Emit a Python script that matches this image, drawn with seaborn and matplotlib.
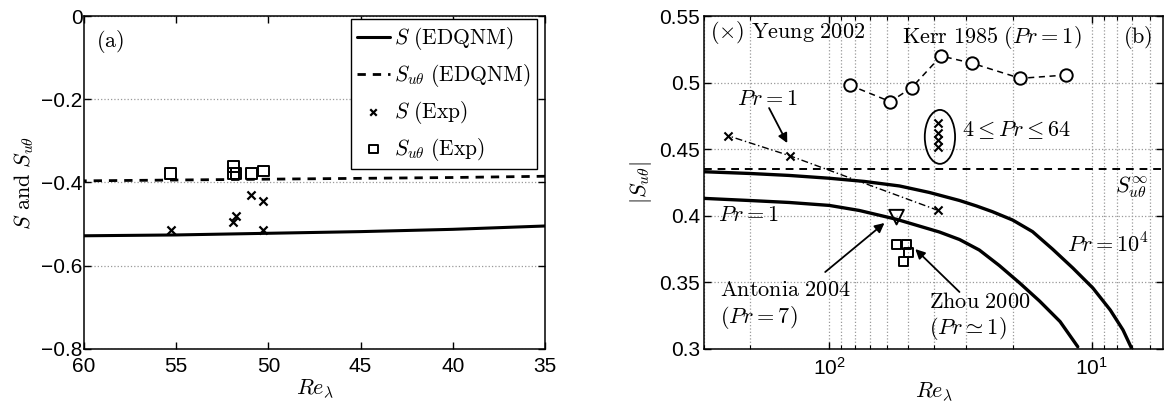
import matplotlib
matplotlib.use("Agg")
import matplotlib.pyplot as plt
import seaborn as sns
from matplotlib.patches import Ellipse
from matplotlib.ticker import FuncFormatter, NullFormatter, MultipleLocator, FixedLocator

# ---- panel (a): skewness vs Re_lambda ----
re_model_a = [60, 55, 50, 45, 40, 35]
s_model_a = [-0.528, -0.526, -0.522, -0.518, -0.5125, -0.5045]
sut_model_a = [-0.396, -0.394, -0.392, -0.390, -0.388, -0.385]

re_s_exp = [55.3, 51.94, 51.78, 50.94, 50.28, 50.28]
s_exp = [-0.513, -0.494, -0.480, -0.430, -0.444, -0.513]
re_sut_exp = [55.3, 51.90, 51.90, 51.76, 50.91, 50.28]
sut_exp = [-0.378, -0.362, -0.378, -0.378, -0.378, -0.372]

# ---- panel (b): |S_utheta| vs Re_lambda ----
re_pr1 = [302, 202, 142, 100, 76.8, 55.5, 38.0, 31.9, 26.8, 22.5, 18.8, 15.8, 13.2, 11.3]
s_pr1 = [0.4131, 0.4115, 0.4100, 0.4078, 0.4040, 0.3974, 0.3878, 0.3822, 0.3743, 0.3627,
         0.3495, 0.3360, 0.3206, 0.3017]
re_pr1e4 = [302, 202, 142, 100, 73.5, 54.0, 41.5, 31.9, 27.5, 23.9, 20.0, 16.8, 14.1, 11.8,
            9.9, 8.5, 7.6, 7.0]
s_pr1e4 = [0.4331, 0.4318, 0.4303, 0.4282, 0.4258, 0.4224, 0.4175, 0.4115, 0.4074, 0.4031,
           0.3968, 0.3881, 0.3750, 0.3608, 0.3458, 0.3293, 0.3143, 0.2993]
s_inf = 0.435

re_kerr = [83.4, 58.5, 48.5, 37.5, 28.5, 18.7, 12.5]
s_kerr = [0.498, 0.4857, 0.4962, 0.520, 0.5145, 0.5032, 0.5057]

re_yeung = [242, 141, 38.4]
s_yeung = [0.460, 0.445, 0.404]
re_yeung_pr = [38.4, 38.4, 38.4, 38.4]
s_yeung_pr = [0.470, 0.462, 0.457, 0.452]

re_antonia = [55.4]
s_antonia = [0.399]

re_zhou = [55.6, 50.9, 50.1, 52.0]
s_zhou = [0.3786, 0.3786, 0.3723, 0.3658]

sns.set_style("ticks", rc={
    "axes.edgecolor": "k", "xtick.color": "k", "ytick.color": "k",
    "text.color": "k", "axes.labelcolor": "k",
    "xtick.direction": "in", "ytick.direction": "in",
    "xtick.top": True, "ytick.right": True,
})
plt.rcParams["font.family"] = ["Liberation Sans", "DejaVu Sans"]
plt.rcParams["mathtext.fontset"] = "cm"
plt.rcParams["axes.linewidth"] = 1.1

FS = 15
TS = 16  # annotation text
fig = plt.figure(figsize=(11.64, 4.04), dpi=100)
ax1 = fig.add_axes([84 / 1164, 1 - 349 / 404, 461 / 1164, 333 / 404])
ax2 = fig.add_axes([704 / 1164, 1 - 349 / 404, 459 / 1164, 333 / 404])

# ---------- (a) ----------
sns.lineplot(x=re_model_a, y=s_model_a, ax=ax1, color="k", lw=2.2, estimator=None,
             label=r"$S\ \mathrm{(EDQNM)}$")
sns.lineplot(x=re_model_a, y=sut_model_a, ax=ax1, color="k", lw=2.0, linestyle=(0, (3, 2.5)),
             estimator=None, label=r"$S_{u\theta}\ \mathrm{(EDQNM)}$")
sns.scatterplot(x=re_s_exp, y=s_exp, ax=ax1, marker="x", color="k", s=34, linewidth=1.6,
                label=r"$S\ \mathrm{(Exp)}$", zorder=3)
sns.scatterplot(x=re_sut_exp, y=sut_exp, ax=ax1, marker="s", facecolor="none", edgecolor="k",
                s=58, linewidth=1.4, label=r"$S_{u\theta}\ \mathrm{(Exp)}$", zorder=3)

ax1.set_xlim(60, 35)
ax1.set_ylim(-0.8, 0)
ax1.xaxis.set_major_locator(MultipleLocator(5))
ax1.yaxis.set_major_locator(MultipleLocator(0.2))
ax1.yaxis.set_major_formatter(FuncFormatter(lambda v, _: f"{v:g}".replace("-", "\u2212")))
ax1.grid(axis="y", linestyle=":", color="#999999", lw=0.9)
ax1.tick_params(labelsize=FS, length=5, width=1.0)
ax1.tick_params(axis="x", pad=6)
ax1.tick_params(axis="y", pad=1)
ax1.set_xlabel(r"$Re_\lambda$", fontsize=FS + 1, labelpad=1)
ax1.set_ylabel(r"$S\ \mathrm{and}\ S_{u\theta}$", fontsize=FS + 1, labelpad=4)
ax1.text(0.026, 0.922, r"$\mathrm{(a)}$", transform=ax1.transAxes, fontsize=TS, va="center")
leg = ax1.legend(loc="upper right", bbox_to_anchor=(0.983, 0.991), borderaxespad=0,
                 fontsize=FS + 0.5, fancybox=False, framealpha=1, edgecolor="k",
                 handlelength=1.5, handletextpad=0.2, labelspacing=0.45, borderpad=0.3,
                 markerscale=0.8)
leg.get_frame().set_linewidth(1.0)

# ---------- (b) ----------
ax2.set_xscale("log")
sns.lineplot(x=re_pr1, y=s_pr1, ax=ax2, color="k", lw=2.4, estimator=None)
sns.lineplot(x=re_pr1e4, y=s_pr1e4, ax=ax2, color="k", lw=2.4, estimator=None)
ax2.axhline(s_inf, color="k", lw=1.4, linestyle=(0, (4, 3)))
sns.lineplot(x=re_kerr, y=s_kerr, ax=ax2, color="k", lw=1.1, linestyle=(0, (4, 3)),
             estimator=None)
sns.scatterplot(x=re_kerr, y=s_kerr, ax=ax2, marker="o", facecolor="white", edgecolor="k",
                s=80, linewidth=1.4, zorder=3)
sns.lineplot(x=re_yeung, y=s_yeung, ax=ax2, color="k", lw=1.0, linestyle=(0, (5, 2, 1, 2)),
             estimator=None)
sns.scatterplot(x=re_yeung, y=s_yeung, ax=ax2, marker="x", color="k", s=34, linewidth=1.5, zorder=3)
sns.scatterplot(x=re_yeung_pr, y=s_yeung_pr, ax=ax2, marker="x", color="k", s=34, linewidth=1.5,
                zorder=3)
sns.scatterplot(x=re_antonia, y=s_antonia, ax=ax2, marker="v", facecolor="none", edgecolor="k",
                s=110, linewidth=1.4, zorder=3)
sns.scatterplot(x=re_zhou, y=s_zhou, ax=ax2, marker="s", facecolor="none", edgecolor="k",
                s=42, linewidth=1.4, zorder=3)

ax2.set_xlim(300, 5.35)
ax2.set_ylim(0.3, 0.55)
ax2.yaxis.set_major_locator(MultipleLocator(0.05))
ax2.yaxis.set_major_formatter(FuncFormatter(lambda v, _: f"{v:.2f}".rstrip("0")))
ax2.xaxis.set_major_locator(FixedLocator([10, 100]))
ax2.xaxis.set_minor_formatter(NullFormatter())
ax2.grid(axis="x", which="both", linestyle=":", color="#999999", lw=0.9)
ax2.grid(axis="y", which="major", linestyle=":", color="#999999", lw=0.9)
ax2.tick_params(labelsize=FS, length=5, width=1.0)
ax2.tick_params(which="minor", length=3, width=0.8)
ax2.tick_params(axis="x", pad=6)
ax2.tick_params(axis="y", pad=3)
ax2.set_xlabel(r"$Re_\lambda$", fontsize=FS + 1, labelpad=1)
ax2.set_ylabel(r"$|S_{u\theta}|$", fontsize=FS + 1, labelpad=4)

tr = ax2.transAxes
ax2.text(0.013, 0.949, r"$(\times)\ \mathrm{Yeung\ 2002}$", transform=tr, fontsize=TS, va="center")
ax2.text(0.431, 0.934, r"$\mathrm{Kerr\ 1985\ (}Pr=1\mathrm{)}$", transform=tr, fontsize=TS, va="center")
ax2.text(0.913, 0.934, r"$\mathrm{(b)}$", transform=tr, fontsize=TS, va="center")
ax2.text(0.072, 0.748, r"$Pr=1$", transform=tr, fontsize=TS, va="center")
ax2.text(0.562, 0.658, r"$4\leq Pr\leq 64$", transform=tr, fontsize=TS, va="center")
ax2.text(0.895, 0.486, r"$S_{u\theta}^{\infty}$", transform=tr, fontsize=TS, va="center")
ax2.text(0.0305, 0.402, r"$Pr=1$", transform=tr, fontsize=TS, va="center")
ax2.text(0.791, 0.312, r"$Pr=10^4$", transform=tr, fontsize=TS, va="center")
ax2.text(0.035, 0.177, r"$\mathrm{Antonia\ 2004}$", transform=tr, fontsize=TS, va="center")
ax2.text(0.035, 0.096, r"$(Pr=7)$", transform=tr, fontsize=TS, va="center")
ax2.text(0.490, 0.141, r"$\mathrm{Zhou\ 2000}$", transform=tr, fontsize=TS, va="center")
ax2.text(0.490, 0.063, r"$(Pr\simeq 1)$", transform=tr, fontsize=TS, va="center")

ax2.add_patch(Ellipse((0.514, 0.637), 0.066, 0.162, transform=tr, fill=False,
                      edgecolor="k", lw=1.3))

arrow = dict(arrowstyle="-|>", color="k", lw=1.3, mutation_scale=14, shrinkA=0, shrinkB=0)
ax2.annotate("", xy=(144.5, 0.4546), xytext=(169.5, 0.4809), arrowprops=arrow)
ax2.annotate("", xy=(61.6, 0.3946), xytext=(103.6, 0.3578), arrowprops=arrow)
ax2.annotate("", xy=(47.0, 0.375), xytext=(31.9, 0.3428), arrowprops=arrow)

fig.savefig("out.png", dpi=100)
